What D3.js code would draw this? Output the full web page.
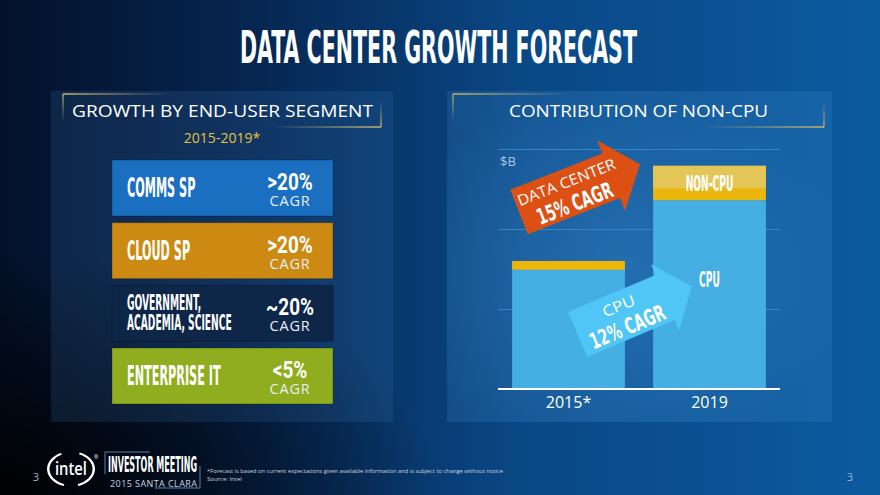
<!DOCTYPE html>
<html>
<head>
<meta charset="utf-8">
<script src="https://cdn.jsdelivr.net/npm/d3@7"></script>
<style>
  html, body { margin: 0; padding: 0; background: #041530; overflow: hidden; }
  svg { display: block; }
</style>
</head>
<body>
<div id="container"></div>
<script>
/* DATA */
const segments = ["COMMS SP", "CLOUD SP", "GOVERNMENT,|ACADEMIA, SCIENCE", "ENTERPRISE IT"];
const segmentGrowth = [">20%", ">20%", "~20%", "<5%"];
const years = ["2015*", "2019"];
const cpuValues = [14.9, 23.6];      // $B
const nonCpuValues = [1.1, 4.3];
const gridTicks = [10, 20, 30];
const dcLabel = ["DATA CENTER", "15% CAGR"];
const cpuLabel = ["CPU", "12% CAGR"];

/* CONSTANTS */
const W = 880, H = 495;
const COND = "'Liberation Sans Narrow', 'DejaVu Sans Condensed', Roboto, sans-serif";
const SANS = "'Open Sans', 'Noto Sans', sans-serif";
const gold = "#c9b46c";
const ky = 1.1;   // headline face is taller than it is wide

const svg = d3.select("#container").append("svg")
    .attr("width", W)
    .attr("height", H);
const defs = svg.append("defs");

/* BACKGROUND */
const bg = defs.append("linearGradient").attr("id", "bg")
    .attr("x1", 0).attr("y1", 0).attr("x2", 1).attr("y2", 0);
bg.append("stop").attr("offset", 0).attr("stop-color", "#04112a");
bg.append("stop").attr("offset", 0.28).attr("stop-color", "#062550");
bg.append("stop").attr("offset", 0.6).attr("stop-color", "#0a4886");
bg.append("stop").attr("offset", 1).attr("stop-color", "#0c5a9f");
const dark = defs.append("radialGradient").attr("id", "dark")
    .attr("cx", 0).attr("cy", 1).attr("r", 0.5);
dark.append("stop").attr("offset", 0).attr("stop-color", "#000").attr("stop-opacity", 0.95);
dark.append("stop").attr("offset", 1).attr("stop-color", "#000").attr("stop-opacity", 0);
const glow = defs.append("radialGradient").attr("id", "glow")
    .attr("cx", 0.45).attr("cy", 0.55).attr("r", 0.6);
glow.append("stop").attr("offset", 0).attr("stop-color", "#3f92d4").attr("stop-opacity", 0.35);
glow.append("stop").attr("offset", 1).attr("stop-color", "#3f92d4").attr("stop-opacity", 0);

svg.append("rect").attr("width", W).attr("height", H).attr("fill", "url(#bg)");
svg.append("rect").attr("width", W).attr("height", H).attr("fill", "url(#dark)");

// panels
svg.append("rect").attr("x", 51).attr("y", 91).attr("width", 342).attr("height", 331)
    .attr("fill", "#4a90d0").attr("opacity", 0.15);
svg.append("rect").attr("x", 447).attr("y", 91).attr("width", 385).attr("height", 331)
    .attr("fill", "#4a9ae0").attr("opacity", 0.18);
svg.append("rect").attr("x", 447).attr("y", 91).attr("width", 385).attr("height", 331)
    .attr("fill", "url(#glow)");

/* TITLE */
const title = svg.append("text")
    .attr("x", 438.5).attr("y", 63)
    .attr("text-anchor", "middle")
    .style("font-family", COND).style("font-weight", "bold").style("font-size", "45px")
    .style("fill", "white")
    .text("DATA CENTER GROWTH FORECAST");
// condense factor for the narrow headline face
const kc = 397 / title.node().getComputedTextLength();
title.attr("textLength", 397).attr("lengthAdjust", "spacingAndGlyphs");

function condText(parent, x, y, str, size, anchor) {
  return parent.append("g")
      .attr("transform", "translate(" + x + "," + y + ") scale(" + kc + "," + ky + ")")
    .append("text")
      .attr("text-anchor", anchor || "start")
      .style("font-family", COND).style("font-weight", "bold")
      .style("font-size", (size / ky) + "px").style("fill", "white")
      .text(str);
}

// gold corner brackets round the panel headings
let gid = 0;
function corner(x, y, dx, dy) {
  [[x + dx, y], [x, y + dy]].forEach(function(end) {
    const id = "cg" + (gid++);
    const g = defs.append("linearGradient").attr("id", id)
        .attr("gradientUnits", "userSpaceOnUse")
        .attr("x1", x).attr("y1", y).attr("x2", end[0]).attr("y2", end[1]);
    g.append("stop").attr("offset", 0).attr("stop-color", gold).attr("stop-opacity", 1);
    g.append("stop").attr("offset", 1).attr("stop-color", gold).attr("stop-opacity", 0);
    svg.append("line")
        .attr("x1", x).attr("y1", y).attr("x2", end[0]).attr("y2", end[1])
        .attr("stroke", "url(#" + id + ")").attr("stroke-width", 1.3);
  });
}
corner(63, 94, 110, 28);
corner(381, 127, -110, -26);
corner(453, 94, 120, 28);
corner(824, 127, -120, -26);

svg.append("text")
    .attr("x", 72).attr("y", 117)
    .attr("textLength", 301).attr("lengthAdjust", "spacingAndGlyphs")
    .style("font-family", SANS).style("font-size", "17px").style("fill", "white")
    .text("GROWTH BY END-USER SEGMENT");
svg.append("text")
    .attr("x", 222).attr("y", 143).attr("text-anchor", "middle")
    .style("font-family", SANS).style("font-size", "14px").style("fill", "#e6c23c")
    .text("2015-2019*");
svg.append("text")
    .attr("x", 509).attr("y", 117)
    .attr("textLength", 259).attr("lengthAdjust", "spacingAndGlyphs")
    .style("font-family", SANS).style("font-size", "17px").style("fill", "white")
    .text("CONTRIBUTION OF NON-CPU");

/* LEFT: SEGMENT BOXES */
const segColors = ["#1b6fc1", "#cd8a12", "#0e2748", "#8fad1f"];
const yBox = d3.scaleBand()
    .domain(segments)
    .range([160, 404])
    .paddingInner(0.106);

const box = svg.selectAll("g.seg")
    .data(segments)
    .join("g")
    .attr("class", "seg")
    .attr("transform", d => "translate(112," + yBox(d) + ")");

box.append("rect")
    .attr("width", 221)
    .attr("height", yBox.bandwidth())
    .attr("fill", (d, i) => segColors[i])
    .attr("stroke", "rgba(0,0,0,0.25)")
    .attr("stroke-width", 1);

box.each(function(d, i) {
  const g = d3.select(this);
  const lines = d.split("|");
  if (lines.length === 1) {
    condText(g, 15, 37, lines[0], 27);
  } else {
    condText(g, 15, 25, lines[0], 22);
    condText(g, 15, 45, lines[1], 22);
  }
  g.append("g")
      .attr("transform", "translate(178,30) scale(0.9," + ky + ")")
    .append("text")
      .attr("text-anchor", "middle")
      .style("font-family", "Roboto, sans-serif").style("font-weight", "bold")
      .style("font-size", "21px").style("fill", "white")
      .text(segmentGrowth[i]);
  g.append("text")
      .attr("x", 178).attr("y", 46).attr("text-anchor", "middle")
      .style("font-family", SANS).style("font-size", "14.5px")
      .style("letter-spacing", "0.8px").style("fill", "#e8eef5")
      .text("CAGR");
});

/* RIGHT: STACKED BARS */
const table = years.map((yr, i) => ({year: yr, cpu: cpuValues[i], nonCpu: nonCpuValues[i]}));
const stack = d3.stack().keys(["cpu", "nonCpu"])(table);
const barColors = {cpu: "#45aee3", nonCpu: "#ecb70c"};

const x = d3.scaleBand()
    .domain(years)
    .range([498, 780])
    .paddingInner(0.2)
    .paddingOuter(0.1);
const y = d3.scaleLinear()
    .domain([0, 30])
    .range([389, 149]);

const grid = svg.append("g")
    .attr("transform", "translate(498,0)")
    .call(d3.axisLeft(y).tickValues(gridTicks).tickSize(-282).tickFormat(""));
grid.select(".domain").remove();
grid.selectAll("line").attr("stroke", "#3b92d2").attr("stroke-opacity", 0.75);

svg.append("text")
    .attr("x", 500).attr("y", 166)
    .style("font-family", SANS).style("font-size", "13px").style("fill", "#a9c6e2")
    .text("$B");

svg.append("g")
  .selectAll("g")
  .data(stack)
  .join("g")
    .attr("fill", d => barColors[d.key])
  .selectAll("rect")
  .data(d => d)
  .join("rect")
    .attr("x", d => x(d.data.year))
    .attr("y", d => y(d[1]))
    .attr("width", x.bandwidth())
    .attr("height", d => y(d[0]) - y(d[1]));

// lighter label band on the 2019 non-CPU block
const last = stack[1][years.length - 1];
svg.append("rect")
    .attr("x", x(last.data.year))
    .attr("y", y(last[1]))
    .attr("width", x.bandwidth())
    .attr("height", (y(last[0]) - y(last[1])) * 0.65)
    .attr("fill", "#e3c657");

svg.append("line")
    .attr("x1", 498).attr("x2", 780)
    .attr("y1", y(0)).attr("y2", y(0))
    .attr("stroke", "white").attr("stroke-width", 2.2);

const xAxis = svg.append("g")
    .attr("transform", "translate(0," + y(0) + ")")
    .call(d3.axisBottom(x).tickSize(0).tickPadding(8));
xAxis.select(".domain").remove();
xAxis.selectAll("text")
    .style("font-family", SANS).style("font-size", "16px").style("fill", "white");

const cx19 = x(last.data.year) + x.bandwidth() / 2;
condText(svg, cx19, (y(last[0]) + y(last[1])) / 2 + 8, "NON-CPU", 22, "middle");
condText(svg, cx19, y(cpuValues[1] * 0.54), "CPU", 22, "middle");

/* ARROWS */
function arrow(tx, ty, angle, len, hl, s, h, color, labels) {
  const g = svg.append("g")
      .attr("transform", "translate(" + tx + "," + ty + ") rotate(" + angle + ")");
  const pts = [[0, -s / 2], [len - hl, -s / 2], [len - hl, -h / 2], [len, 0],
               [len - hl, h / 2], [len - hl, s / 2], [0, s / 2]];
  g.append("path")
      .attr("d", d3.line()(pts) + "Z")
      .attr("fill", color);
  g.append("text")
      .attr("x", labels.x).attr("y", -5).attr("text-anchor", "middle")
      .attr("textLength", labels.w1).attr("lengthAdjust", "spacingAndGlyphs")
      .style("font-family", SANS).style("font-size", "15px").style("fill", "white")
      .text(labels.text[0]);
  g.append("g")
      .attr("transform", "translate(" + labels.x + ",20) scale(1," + ky + ")")
    .append("text")
      .attr("text-anchor", "middle")
      .attr("textLength", 80).attr("lengthAdjust", "spacingAndGlyphs")
      .style("font-family", COND).style("font-weight", "bold")
      .style("font-size", "20px").style("fill", "white")
      .text(labels.text[1]);
}
arrow(519, 212, -21.5, 130, 31, 48, 76, "#dc5014", {x: 55, w1: 104, text: dcLabel});
arrow(577.5, 334.5, -22.9, 124, 29, 49, 72, "#4fc6f6", {x: 49, w1: 34, text: cpuLabel});

/* FOOTER */
svg.append("text")
    .attr("x", 36).attr("y", 481).attr("text-anchor", "middle")
    .style("font-family", SANS).style("font-size", "11px").style("fill", "#9fb0c8")
    .text("3");
svg.append("text")
    .attr("x", 850).attr("y", 481).attr("text-anchor", "middle")
    .style("font-family", SANS).style("font-size", "11px").style("fill", "#9fb0c8")
    .text("3");

// intel logo
const logo = svg.append("g").attr("transform", "translate(71,469)");
const arc = d3.arc().innerRadius(21.5).outerRadius(24);
logo.append("g").attr("transform", "scale(1,0.74)")
  .selectAll("path")
  .data([[0.12, 0.9], [1.1, 1.86]])
  .join("path")
    .attr("d", d => arc({startAngle: d[0] * Math.PI, endAngle: d[1] * Math.PI}))
    .attr("fill", "white");
logo.append("text")
    .attr("y", 6).attr("text-anchor", "middle")
    .attr("textLength", 32).attr("lengthAdjust", "spacingAndGlyphs")
    .style("font-family", SANS).style("font-weight", 600)
    .style("font-size", "18px").style("fill", "white")
    .text("intel");
logo.append("text")
    .attr("x", 23).attr("y", -10)
    .style("font-family", SANS).style("font-size", "5px").style("fill", "white")
    .text("®");

svg.append("path")
    .attr("d", "M105,474V452H150M200,466V488H155")
    .attr("fill", "none").attr("stroke", "#5d7fa8").attr("stroke-width", 1);
svg.append("g")
    .attr("transform", "translate(108,472) scale(1," + ky + ")")
  .append("text")
    .attr("textLength", 89).attr("lengthAdjust", "spacingAndGlyphs")
    .style("font-family", COND).style("font-weight", "bold")
    .style("font-size", "20px").style("fill", "white")
    .text("INVESTOR MEETING");
svg.append("text")
    .attr("x", 110).attr("y", 486.5)
    .attr("textLength", 87).attr("lengthAdjust", "spacing")
    .style("font-family", SANS).style("font-size", "9px").style("fill", "#c9d3e0")
    .text("2015 SANTA CLARA");

svg.append("text")
    .attr("x", 207).attr("y", 472.5)
    .attr("textLength", 296).attr("lengthAdjust", "spacingAndGlyphs")
    .style("font-family", SANS).style("font-size", "6px").style("fill", "#cbd5e0")
    .text("*Forecast is based on current expectations given available information and is subject to change without notice");
svg.append("text")
    .attr("x", 207).attr("y", 481)
    .style("font-family", SANS).style("font-size", "6px").style("fill", "#cbd5e0")
    .text("Source: Intel");
</script>
</body>
</html>
